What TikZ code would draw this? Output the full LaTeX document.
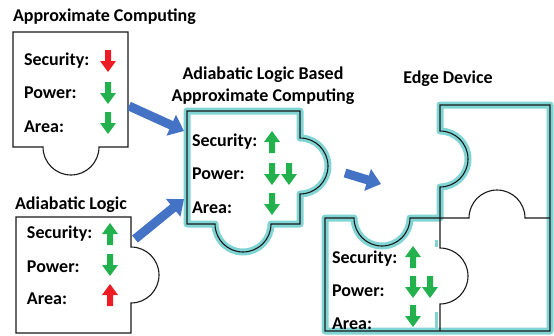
\documentclass[tikz,border=0pt]{standalone}
\usepackage{fontspec}
\setmainfont{Carlito}
\usetikzlibrary{arrows.meta}

\definecolor{pzcyan}{RGB}{128,212,212}
\definecolor{pzgreen}{RGB}{34,177,76}
\definecolor{pzred}{RGB}{237,28,36}
\definecolor{pzblue}{RGB}{68,114,196}
\definecolor{pzline}{RGB}{25,25,25}

\tikzset{
  every node/.style={inner sep=0pt, outer sep=0pt, font=\bfseries\fontsize{18}{20}\selectfont},
  txt/.style={anchor=base west},
  heading/.style={anchor=base west},
  cheading/.style={anchor=base},
  piece/.style={draw=pzline, line width=1.1pt, line join=miter},
  glow/.style={draw=pzcyan, line width=7pt, line join=round},
  flow/.style={draw=pzblue, line width=9pt, -{Triangle[width=22pt,length=14pt]}},
  pics/down/.style={code={\fill[#1] (-3,-11) -- (3,-11) -- (3,0) -- (8,0) -- (0,11) -- (-8,0) -- (-3,0) -- cycle;}},
  pics/up/.style={code={\fill[#1] (-3,11) -- (3,11) -- (3,0) -- (8,0) -- (0,-11) -- (-8,0) -- (-3,0) -- cycle;}},
}

\begin{document}
\begin{tikzpicture}[x=1pt,y=-1pt]
\useasboundingbox (0,0) rectangle (554,335);

% ---------- Approximate Computing ----------
\node[heading] (t-ac) at (13,21) {Approximate Computing};
\draw[piece] (13,32) -- (128,32) -- (128,147) -- (99,147)
  arc[start angle=0,end angle=180,radius=28] -- (13,147) -- cycle;
\node[txt] (ac-s) at (24,65) {Security:};
\node[txt] (ac-p) at (24,98) {Power:};
\node[txt] (ac-a) at (24,132) {Area:};
\pic at (108,61) {down=pzred};
\pic at (108,93) {down=pzgreen};
\pic at (108,123) {down=pzgreen};

% ---------- Adiabatic Logic ----------
\node[heading] (t-al) at (15,209) {Adiabatic Logic};
\draw[piece] (16,217) -- (131,217) -- (131,247)
  arc[start angle=-90,end angle=90,radius=28] -- (131,333) -- (16,333) -- cycle;
\node[txt] (al-s) at (27,238) {Security:};
\node[txt] (al-p) at (27,272) {Power:};
\node[txt] (al-a) at (27,304) {Area:};
\pic at (110,234) {up=pzgreen};
\pic at (110,265) {down=pzgreen};
\pic at (110,295) {up=pzred};

% ---------- Adiabatic Logic Based Approximate Computing ----------
\node[cheading] (t-mid1) at (263,79) {Adiabatic Logic Based};
\node[cheading] (t-mid2) at (263,101) {Approximate Computing};
\draw[piece, preaction={glow}] (187,111) -- (300,111) -- (300,138)
  arc[start angle=-90,end angle=90,radius=28] -- (300,224) -- (271,224)
  arc[start angle=0,end angle=180,radius=28] -- (187,224) -- cycle;
\node[txt] (mid-s) at (192,146) {Security:};
\node[txt] (mid-p) at (192,179) {Power:};
\node[txt] (mid-a) at (192,213) {Area:};
\pic at (272,142) {up=pzgreen};
\pic at (272,174) {down=pzgreen};
\pic at (289,174) {down=pzgreen};
\pic at (272,204) {down=pzgreen};

% ---------- Edge Device ----------
\node[cheading] (t-ed) at (448,83) {Edge Device};
\draw[pzcyan, line width=3pt] (436,240) -- (436,247);
\draw[pzcyan, line width=3pt] (436,312) -- (436,331);
\draw[piece, preaction={glow}] (325,218) -- (354,218)
  arc[start angle=180,end angle=0,radius=28] -- (440,218) -- (440,187)
  arc[start angle=90,end angle=-90,radius=28] -- (440,105) -- (550,105)
  -- (550,331) -- (325,331) -- cycle;
\draw[piece] (440,218) -- (469,218)
  arc[start angle=180,end angle=360,radius=28] -- (550,218);
\draw[piece] (440,218) -- (440,248)
  arc[start angle=-90,end angle=90,radius=28] -- (440,331);
\node[txt] (ed-s) at (332,263) {Security:};
\node[txt] (ed-p) at (332,296) {Power:};
\node[txt] (ed-a) at (332,329) {Area:};
\pic at (413,257) {up=pzgreen};
\pic at (413,287) {down=pzgreen};
\pic at (430,287) {down=pzgreen};
\pic at (413,316) {down=pzgreen};

% ---------- flow arrows ----------
\coordinate (ac-out) at (129,106);
\coordinate (mid-in1) at (184,131);
\coordinate (al-out) at (135,239);
\coordinate (mid-in2) at (184,199);
\coordinate (mid-out) at (345,173);
\coordinate (ed-in) at (381,184);
\draw[flow] (ac-out) -- (mid-in1);
\draw[flow] (al-out) -- (mid-in2);
\draw[flow] (mid-out) -- (ed-in);
\end{tikzpicture}
\end{document}
